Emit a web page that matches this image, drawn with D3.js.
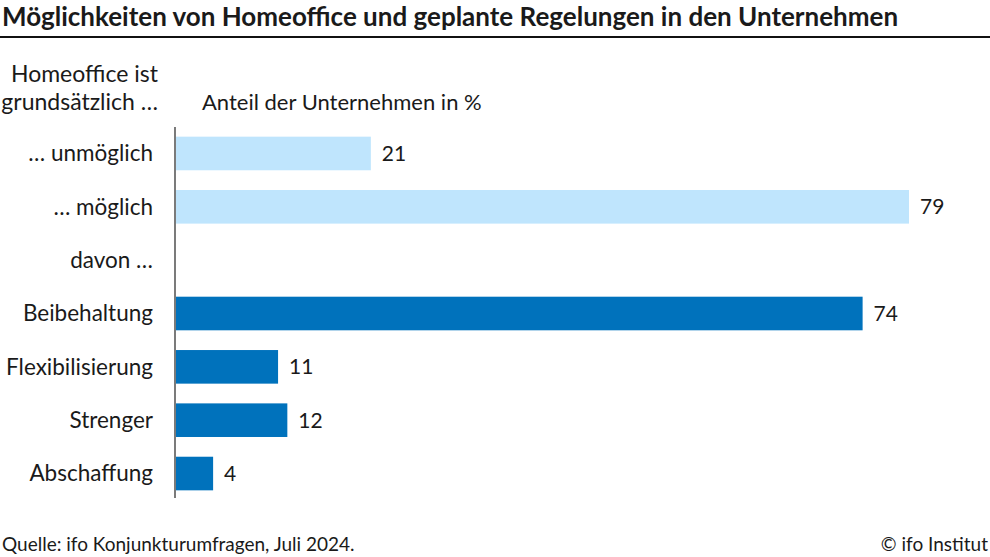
<!DOCTYPE html>
<html>
<head>
<meta charset="utf-8">
<script src="https://cdn.jsdelivr.net/npm/d3@7"></script>
<style>
  body { margin: 0; background: #fff; }
  text { font-family: "Source Sans Pro", Lato, "Noto Sans", sans-serif; fill: #1a1a1a; }
</style>
</head>
<body>
<svg id="chart" width="990" height="557"></svg>
<script>
// data
var categories = ["\u2026 unm\u00f6glich", "\u2026 m\u00f6glich", "davon \u2026", "Beibehaltung", "Flexibilisierung", "Strenger", "Abschaffung"];
var values = [21, 79, null, 74, 11, 12, 4];
var groups = ["basis", "basis", "header", "plan", "plan", "plan", "plan"];
var colors = { basis: "#bfe5fd", plan: "#0072bc" };

var svg = d3.select("#chart");

// title + rule
svg.append("text")
    .attr("x", 2)
    .attr("y", 26)
    .attr("font-size", 26)
    .attr("font-weight", "bold")
    .text("M\u00f6glichkeiten von Homeoffice und geplante Regelungen in den Unternehmen");

svg.append("line")
    .attr("x1", 0).attr("x2", 990)
    .attr("y1", 37).attr("y2", 37)
    .style("stroke", "#111")
    .style("stroke-width", 2);

// left header
svg.append("text")
    .attr("x", 158).attr("y", 82)
    .attr("text-anchor", "end")
    .attr("font-size", 23)
    .text("Homeoffice ist");
svg.append("text")
    .attr("x", 158).attr("y", 110)
    .attr("text-anchor", "end")
    .attr("font-size", 23)
    .text("grunds\u00e4tzlich \u2026");

svg.append("text")
    .attr("x", 202).attr("y", 110)
    .attr("font-size", 22)
    .text("Anteil der Unternehmen in %");

// scales
var x = d3.scaleLinear().domain([0, 79]).range([176, 909]);
var y = d3.scaleBand()
    .domain(categories)
    .range([126, 501])
    .paddingInner(0.37)
    .paddingOuter(0.2);

var rows = svg.append("g")
    .selectAll("g")
    .data(categories)
    .enter().append("g");

// bars
rows.filter(function(d, i) { return values[i] !== null; })
    .append("rect")
    .attr("x", x(0))
    .attr("y", function(d) { return y(d); })
    .attr("width", function(d) { return x(values[categories.indexOf(d)]) - x(0); })
    .attr("height", y.bandwidth())
    .attr("fill", function(d) { return colors[groups[categories.indexOf(d)]]; });

// category labels
rows.append("text")
    .attr("x", 153)
    .attr("y", function(d) { return y(d) + y.bandwidth() / 2; })
    .attr("dy", "0.35em")
    .attr("text-anchor", "end")
    .attr("font-size", 22.5)
    .text(function(d) { return d; });

// value labels
rows.filter(function(d, i) { return values[i] !== null; })
    .append("text")
    .attr("x", function(d) { return x(values[categories.indexOf(d)]) + 11; })
    .attr("y", function(d) { return y(d) + y.bandwidth() / 2; })
    .attr("dy", "0.35em")
    .attr("font-size", 21)
    .text(function(d) { return values[categories.indexOf(d)]; });

// axis line
svg.append("line")
    .attr("x1", 175).attr("x2", 175)
    .attr("y1", 127).attr("y2", 498)
    .style("stroke", "#222")
    .style("stroke-width", 1.2);

// footer
svg.append("text")
    .attr("x", 2).attr("y", 551)
    .attr("font-size", 19)
    .text("Quelle: ifo Konjunkturumfragen, Juli 2024.");
svg.append("text")
    .attr("x", 988).attr("y", 551)
    .attr("text-anchor", "end")
    .attr("font-size", 19)
    .text("\u00a9 ifo Institut");
</script>
</body>
</html>
